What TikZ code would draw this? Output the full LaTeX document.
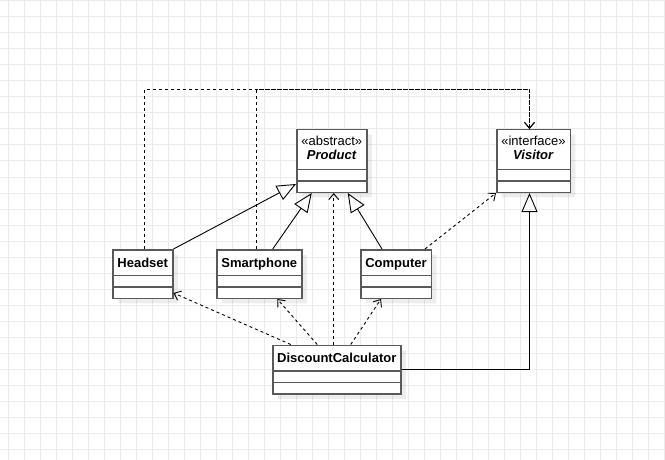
\documentclass[tikz,border=0pt]{standalone}
\usepackage{fontspec}
\setmainfont{Liberation Sans}
\usetikzlibrary{arrows.meta,shapes.multipart,shadows}
\definecolor{boxline}{HTML}{595959}
\definecolor{gridline}{HTML}{EBEBEB}
\newcommand{\cname}[1]{\rule[-7.5pt]{0pt}{24pt}\textbf{#1}}
\newcommand{\cempty}{\rule{0pt}{10pt}}

\begin{document}
\begin{tikzpicture}[x=1pt,y=-1pt,
    cls/.style={draw=boxline,line width=1.5pt,fill=white,rectangle split,rectangle split parts=3,
      inner xsep=0pt,inner ysep=0pt,anchor=north west,align=center,font=\fontsize{13}{14}\selectfont,
      drop shadow={shadow xshift=5pt,shadow yshift=-5pt,fill=black,opacity=.07}},
    dep/.style={line width=0.9pt,dash pattern=on 3pt off 3pt,-{Straight Barb[length=6pt,width=10pt]}},
    inh/.style={line width=0.9pt,-{Triangle[open,length=19pt,width=16pt]}}]
    \useasboundingbox (0,0) rectangle (665,460);
    \fill[white] (0,0) rectangle (665,460);
    \foreach \gx in {8,24,...,664} \draw[gridline,line width=1pt] (\gx,0) -- (\gx,460);
    \foreach \gy in {1,17,...,460} \draw[gridline,line width=1pt] (0,\gy) -- (665,\gy);

    \node[cls,text width=70pt] (PRODUCT) at (296,129) {\rule{0pt}{15.5pt}«abstract»\\\textbf{\textit{Product}}\rule[-8.5pt]{0pt}{0pt}\nodepart{two}\cempty\nodepart{three}\cempty};
    \node[cls,text width=73.5pt] (VISITOR) at (496,129) {\rule{0pt}{15.5pt}«interface»\\\textbf{\textit{Visitor}}\rule[-8.5pt]{0pt}{0pt}\nodepart{two}\cempty\nodepart{three}\cempty};
    \node[cls,text width=60pt] (HEADSET) at (112,249) {\cname{Headset}\nodepart{two}\cempty\nodepart{three}\cempty};
    \node[cls,text width=85pt] (PHONE) at (216,249) {\cname{Smartphone}\nodepart{two}\cempty\nodepart{three}\cempty};
    \node[cls,text width=70.5pt] (COMP) at (360,249) {\cname{Computer}\nodepart{two}\cempty\nodepart{three}\cempty};
    \node[cls,text width=128pt] (CALC) at (272,344.5) {\cname{DiscountCalculator}\nodepart{two}\cempty\nodepart{three}\cempty};

    \draw[dep] ([xshift=2pt]HEADSET.north) |- ([xshift=-4pt,yshift=40pt]VISITOR.north) -- ([xshift=-4pt]VISITOR.north);
    \draw[dep] ([xshift=-2.5pt]PHONE.north) |- ([xshift=-4pt,yshift=40pt]VISITOR.north) -- ([xshift=-4pt]VISITOR.north);

    \draw[inh] (HEADSET.north east) -- ([yshift=9pt]PRODUCT.south west);
    \draw[inh] ([xshift=13.5pt]PHONE.north) -- ([xshift=-20pt]PRODUCT.south);
    \draw[inh] ([xshift=-14pt]COMP.north) -- ([xshift=16pt]PRODUCT.south);
    \draw[inh] (CALC.east) -| ([xshift=-4pt]VISITOR.south);

    \draw[dep] ([xshift=-3pt]CALC.north) -- ([xshift=2pt]PRODUCT.south);
    \draw[dep] ([xshift=-46pt]CALC.north) -- ([yshift=6pt]HEADSET.south east);
    \draw[dep] ([xshift=-19.5pt]CALC.north) -- ([xshift=18pt]PHONE.south);
    \draw[dep] ([xshift=14pt]CALC.north) -- ([xshift=-15pt]COMP.south);
    \draw[dep] ([xshift=-7pt]COMP.north east) -- (VISITOR.south west);
  \end{tikzpicture}
\end{document}
